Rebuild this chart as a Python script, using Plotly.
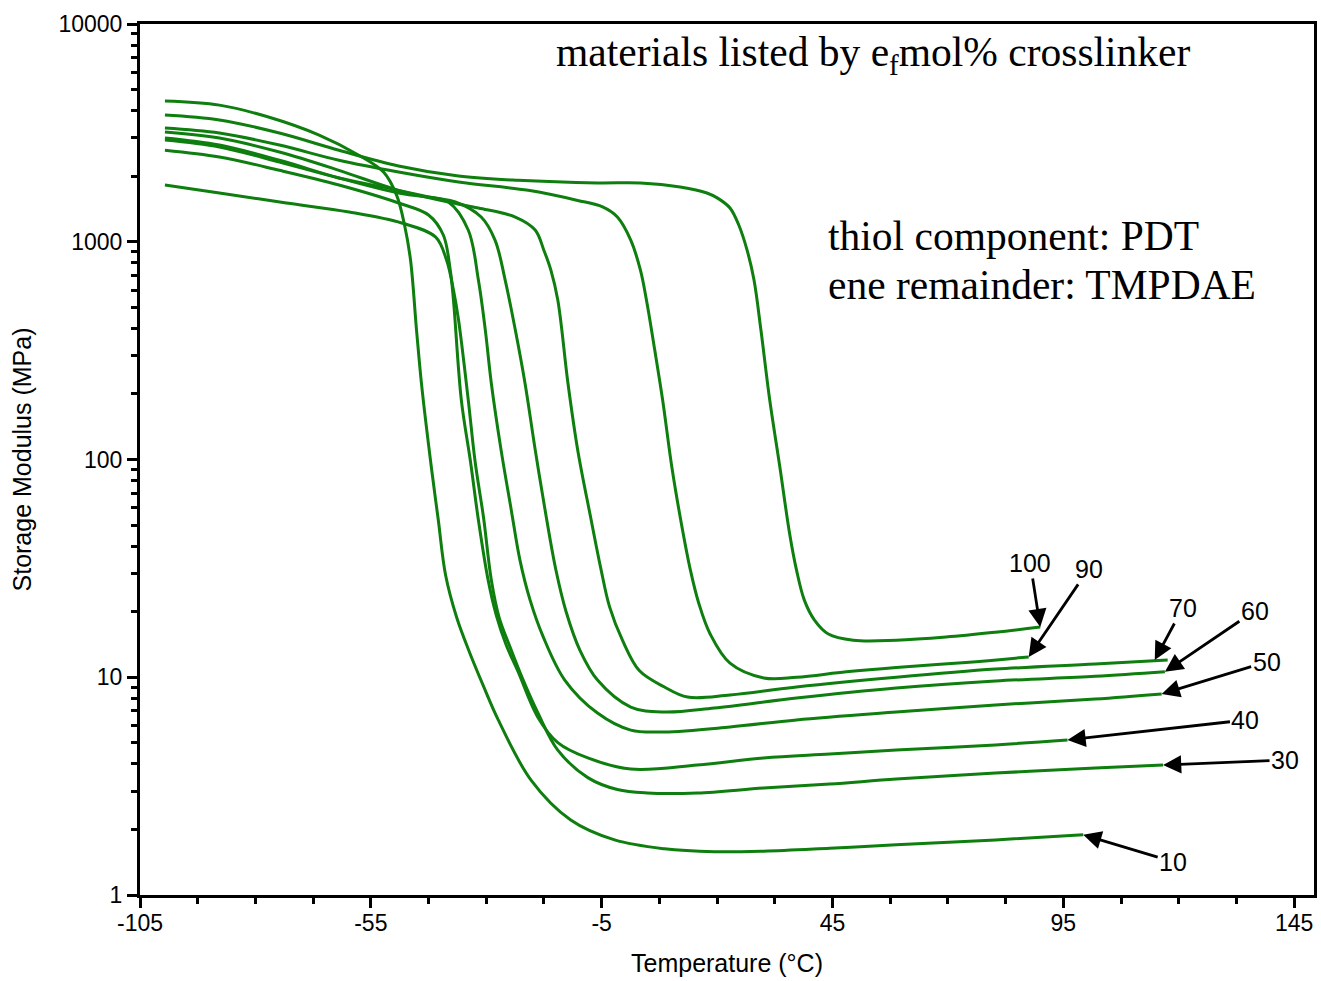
import math
import plotly.graph_objects as go

# Temperature (°C) and storage modulus (MPa)
T10 = [-99.6, -87.8, -77.0, -66.2, -57.6, -52.2, -49.4, -47.7, -46.4, -45.1, -44.0, -41.9, -40.4, -38.8,
       -36.4, -33.8, -30.6, -27.4, -20.3, -11.7, -2.2, 8.6, 19.4, 30.1, 44.4, 58.8, 80.3, 99.3]
E10 = [4430, 4240, 3730, 3090, 2497, 2085, 1633, 1194, 824, 393, 220, 92.4, 53.0, 29.4,
       18.8, 13.3, 9.10, 6.37, 3.37, 2.21, 1.79, 1.63, 1.58, 1.59, 1.64, 1.70, 1.79, 1.89]

T30 = [-99.6, -87.8, -73.3, -59.7, -48.3, -41.0, -38.6, -37.1, -36.0, -33.9, -32.4, -30.6, -28.9, -27.2,
       -24.8, -22.0, -18.8, -14.5, -8.0, -1.6, 4.9, 15.7, 30.1, 44.4, 58.8, 80.3, 101.9, 116.6]
E30 = [1822, 1675, 1507, 1370, 1219, 1052, 824, 600, 437, 188, 97.4, 54.4, 28.0, 18.8,
       13.7, 9.71, 6.86, 4.63, 3.46, 3.05, 2.94, 2.94, 3.10, 3.23, 3.41, 3.63, 3.83, 3.95]

T40 = [-99.6, -87.8, -74.8, -61.9, -49.0, -42.5, -39.3, -37.8, -37.1, -35.4, -33.4, -31.7, -29.6, -27.8,
       -25.7, -23.1, -18.8, -14.5, -8.0, 1.3, 15.7, 30.1, 44.4, 58.8, 80.3, 95.9]
E40 = [2632, 2450, 2128, 1822, 1507, 1327, 1074, 741, 540, 188, 97.4, 52.7, 28.0, 19.2,
       14.1, 10.6, 6.54, 5.01, 4.26, 3.79, 3.95, 4.26, 4.44, 4.63, 4.89, 5.15]

T50 = [-99.6, -87.8, -74.8, -61.9, -49.0, -42.5, -38.2, -33.9, -31.7, -30.2, -28.9, -26.8, -24.6, -22.7,
       -20.5, -17.7, -13.0, -5.9, 1.3, 8.6, 22.8, 37.2, 58.8, 80.3, 101.9, 116.3]
E50 = [2930, 2723, 2323, 1963, 1722, 1605, 1523, 1132, 667, 393, 224, 111, 59.0, 34.5,
       22.6, 15.4, 9.71, 6.85, 5.72, 5.61, 5.91, 6.37, 6.92, 7.46, 7.94, 8.38]

T60 = [-99.6, -87.8, -74.8, -61.9, -49.0, -36.7, -31.1, -28.1, -25.9, -23.7, -21.6, -19.4, -17.0, -14.9,
       -12.7, -9.7, -5.9, 1.3, 8.6, 19.4, 37.2, 58.8, 80.3, 101.9, 117.0]
E60 = [2995, 2781, 2367, 1963, 1675, 1523, 1299, 1018, 667, 393, 224, 111, 54.4, 31.0,
       20.0, 13.3, 9.71, 7.30, 6.92, 7.22, 8.03, 8.93, 9.61, 10.1, 10.6]

T70 = [-99.6, -87.8, -74.8, -61.9, -49.0, -38.2, -31.7, -23.7, -19.4, -17.5, -16.0, -14.5, -12.3, -10.2,
       -7.4, -5.2, -3.3, -0.5, 3.2, 8.6, 13.6, 22.8, 37.2, 58.8, 80.3, 101.9, 117.6]
E70 = [3192, 2995, 2583, 2128, 1722, 1523, 1429, 1299, 1132, 912, 741, 540, 224, 111,
       54.4, 31.7, 21.1, 14.8, 10.7, 9.02, 8.11, 8.29, 9.02, 10.0, 10.9, 11.5, 12.0]

T90 = [-99.6, -87.8, -74.8, -61.9, -49.0, -36.0, -20.9, -10.2, -4.8, -1.6, 1.3, 3.4, 4.7, 6.5,
       8.2, 10.2, 12.3, 14.2, 16.0, 18.5, 22.8, 30.1, 37.2, 48.0, 58.8, 73.9, 87.5]
E90 = [3330, 3158, 2781, 2367, 2090, 1881, 1722, 1548, 1445, 1299, 1018, 740, 540, 318,
       188, 92.4, 50.3, 31.2, 22.0, 15.8, 11.6, 9.93, 10.0, 10.6, 11.1, 11.7, 12.4]

T100 = [-99.6, -87.8, -74.8, -61.9, -49.0, -36.0, -23.1, -5.9, 3.4, 12.0, 17.8, 20.2, 22.8, 24.7,
        26.5, 28.0, 29.5, 31.4, 33.6, 35.7, 37.2, 38.9, 41.1, 44.1, 49.5, 58.8, 69.6, 80.3, 90.0]
E100 = [3820, 3625, 3158, 2632, 2228, 2004, 1914, 1862, 1862, 1784, 1675, 1582, 1429, 1194,
        916, 667, 393, 188, 92.4, 45.9, 31.1, 22.6, 18.3, 15.8, 14.8, 14.8, 15.3, 16.1, 17.0]

series = [("10", T10, E10), ("30", T30, E30), ("40", T40, E40), ("50", T50, E50),
          ("60", T60, E60), ("70", T70, E70), ("90", T90, E90), ("100", T100, E100)]

# label, arrow tip (T, E), label offset in pixels
labels = ["100", "90", "70", "60", "50", "40", "30", "10"]
tip_T = [90.0, 87.5, 114.8, 117.0, 116.3, 95.9, 116.6, 99.3]
tip_E = [17.0, 12.4, 12.0, 10.6, 8.38, 5.15, 3.95, 1.89]
lab_dx = [-10, 60, 28, 90, 105, 178, 122, 90]
lab_dy = [-64, -88, -52, -61, -32, -20, -5, 27]

xticks = [-105, -55, -5, 45, 95, 145]
xminor = [-92.5, -80, -67.5, -42.5, -30, -17.5, 7.5, 20, 32.5, 57.5, 70, 82.5, 107.5, 120, 132.5]
yticks = [1, 10, 100, 1000, 10000]
yminor = [m * d for d in (1, 10, 100, 1000) for m in range(2, 10)]

GREEN = "rgb(14,126,14)"

fig = go.Figure()
for name, T, E in series:
    fig.add_trace(go.Scatter(x=T, y=E, mode="lines", name=name,
                             line=dict(color=GREEN, width=3, shape="spline", smoothing=1.0),
                             showlegend=False))

for lab, tx, ty, dx, dy in zip(labels, tip_T, tip_E, lab_dx, lab_dy):
    fig.add_annotation(x=tx, y=math.log10(ty), xref="x", yref="y", text=lab, showarrow=True,
                       ax=dx, ay=dy, arrowhead=2, arrowsize=1.3, arrowwidth=2.8,
                       arrowcolor="black",
                       font=dict(family="Liberation Sans, Arial", size=25, color="black"))

serif = dict(family="Liberation Serif, Times New Roman, serif", size=41.5, color="black")
fig.add_annotation(xref="paper", yref="paper", x=0.3526, y=0.9644, xanchor="left", yanchor="middle",
                   text="materials listed by e<sub>f</sub>mol% crosslinker", showarrow=False, font=serif)
fig.add_annotation(xref="paper", yref="paper", x=0.5845, y=0.7566, xanchor="left", yanchor="middle",
                   text="thiol component: PDT", showarrow=False, font=serif)
fig.add_annotation(xref="paper", yref="paper", x=0.5845, y=0.7003, xanchor="left", yanchor="middle",
                   text="ene remainder: TMPDAE", showarrow=False, font=serif)

axfont = dict(family="Liberation Sans, Arial", size=23, color="black")
titlefont = dict(family="Liberation Sans, Arial", size=25, color="black")
fig.update_layout(
    width=1321, height=981,
    margin=dict(l=140, r=4, t=24, b=86),
    paper_bgcolor="white", plot_bgcolor="white",
    font=dict(color="black"),
    xaxis=dict(range=[-105, 149.3], tickvals=xticks, ticktext=[str(v) for v in xticks],
               ticks="outside", ticklen=10, tickwidth=3, tickcolor="black", ticklabelstandoff=-5,
               minor=dict(tickvals=xminor, ticks="outside", ticklen=6, tickwidth=3, tickcolor="black"),
               showline=True, linewidth=3, linecolor="black", mirror=True,
               showgrid=False, zeroline=False, tickfont=axfont,
               title=dict(text="Temperature (°C)", font=titlefont, standoff=20)),
    yaxis=dict(type="log", range=[0, 4], tickvals=yticks, ticktext=[str(v) for v in yticks],
               ticks="outside", ticklen=10, tickwidth=3, tickcolor="black",
               minor=dict(tickvals=yminor, ticks="outside", ticklen=6, tickwidth=3, tickcolor="black"),
               showline=True, linewidth=3, linecolor="black", mirror=True,
               showgrid=False, zeroline=False, tickfont=axfont,
               title=dict(text="Storage Modulus (MPa)", font=titlefont, standoff=20)),
)

fig.write_html("out.html")
